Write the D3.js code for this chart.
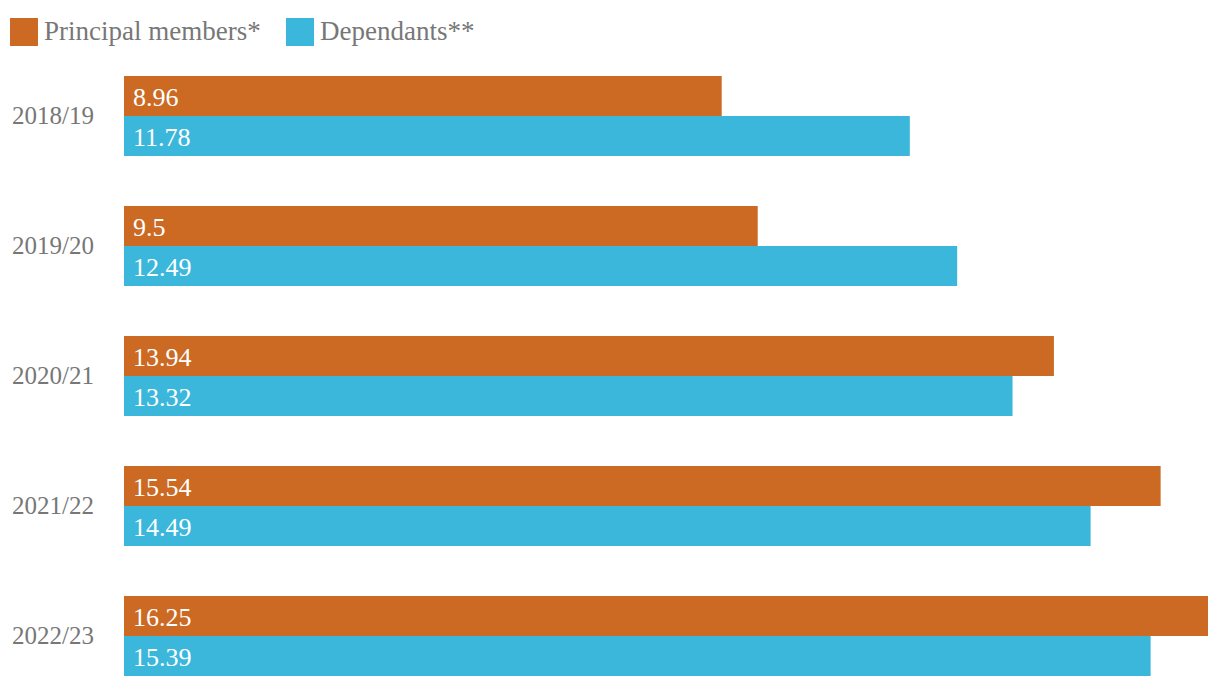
<!DOCTYPE html>
<html><head><meta charset="utf-8">
<script src="https://cdn.jsdelivr.net/npm/d3@7"></script>
<style>body{margin:0;background:#fff}text{font-family:"Liberation Serif",serif}</style>
</head><body>
<svg id="c" width="1220" height="686"></svg>
<script>
const years = ["2018/19","2019/20","2020/21","2021/22","2022/23"];
const seriesNames = ["Principal members*","Dependants**"];
const principal = [8.96, 9.5, 13.94, 15.54, 16.25];
const dependants = [11.78, 12.49, 13.32, 14.49, 15.39];
const colors = ["#CC6A24","#3BB7DC"];

const svg = d3.select("#c");
const x = d3.scaleLinear().domain([0, 16.25]).range([124, 1208]);
const y0 = d3.scaleBand().domain(years).range([76, 676]).paddingInner(50/130).paddingOuter(0);
const y1 = d3.scaleBand().domain(seriesNames).range([0, y0.bandwidth()]);

const data = years.map((yr,i)=>({year:yr, vals:[principal[i], dependants[i]]}));

const g = svg.selectAll("g.grp").data(data).join("g").attr("class","grp")
  .attr("transform", d=>`translate(0,${y0(d.year)})`);

g.append("text").attr("x",12).attr("y",y0.bandwidth()/2+8)
  .attr("fill","#777").attr("font-size",25).text(d=>d.year);

const bars = g.selectAll("g.bar").data(d=>d.vals.map((v,j)=>({v,s:seriesNames[j],c:colors[j]})))
  .join("g").attr("class","bar");
bars.append("rect").attr("x",x(0)).attr("y",d=>y1(d.s)).attr("height",y1.bandwidth())
  .attr("width",d=>x(d.v)-x(0)).attr("fill",d=>d.c);
bars.append("text").attr("x",x(0)+9).attr("y",d=>y1(d.s)+y1.bandwidth()/2+10)
  .attr("fill","#fff").attr("font-size",26).text(d=>d.v);

const leg = svg.selectAll("g.leg").data(seriesNames).join("g").attr("class","leg")
  .attr("transform",(d,i)=>`translate(${i===0?10:286},18)`);
leg.append("rect").attr("width",28).attr("height",28).attr("fill",(d,i)=>colors[i]);
leg.append("text").attr("x",34).attr("y",22).attr("fill","#777").attr("font-size",27).text(d=>d);
</script>
</body></html>
